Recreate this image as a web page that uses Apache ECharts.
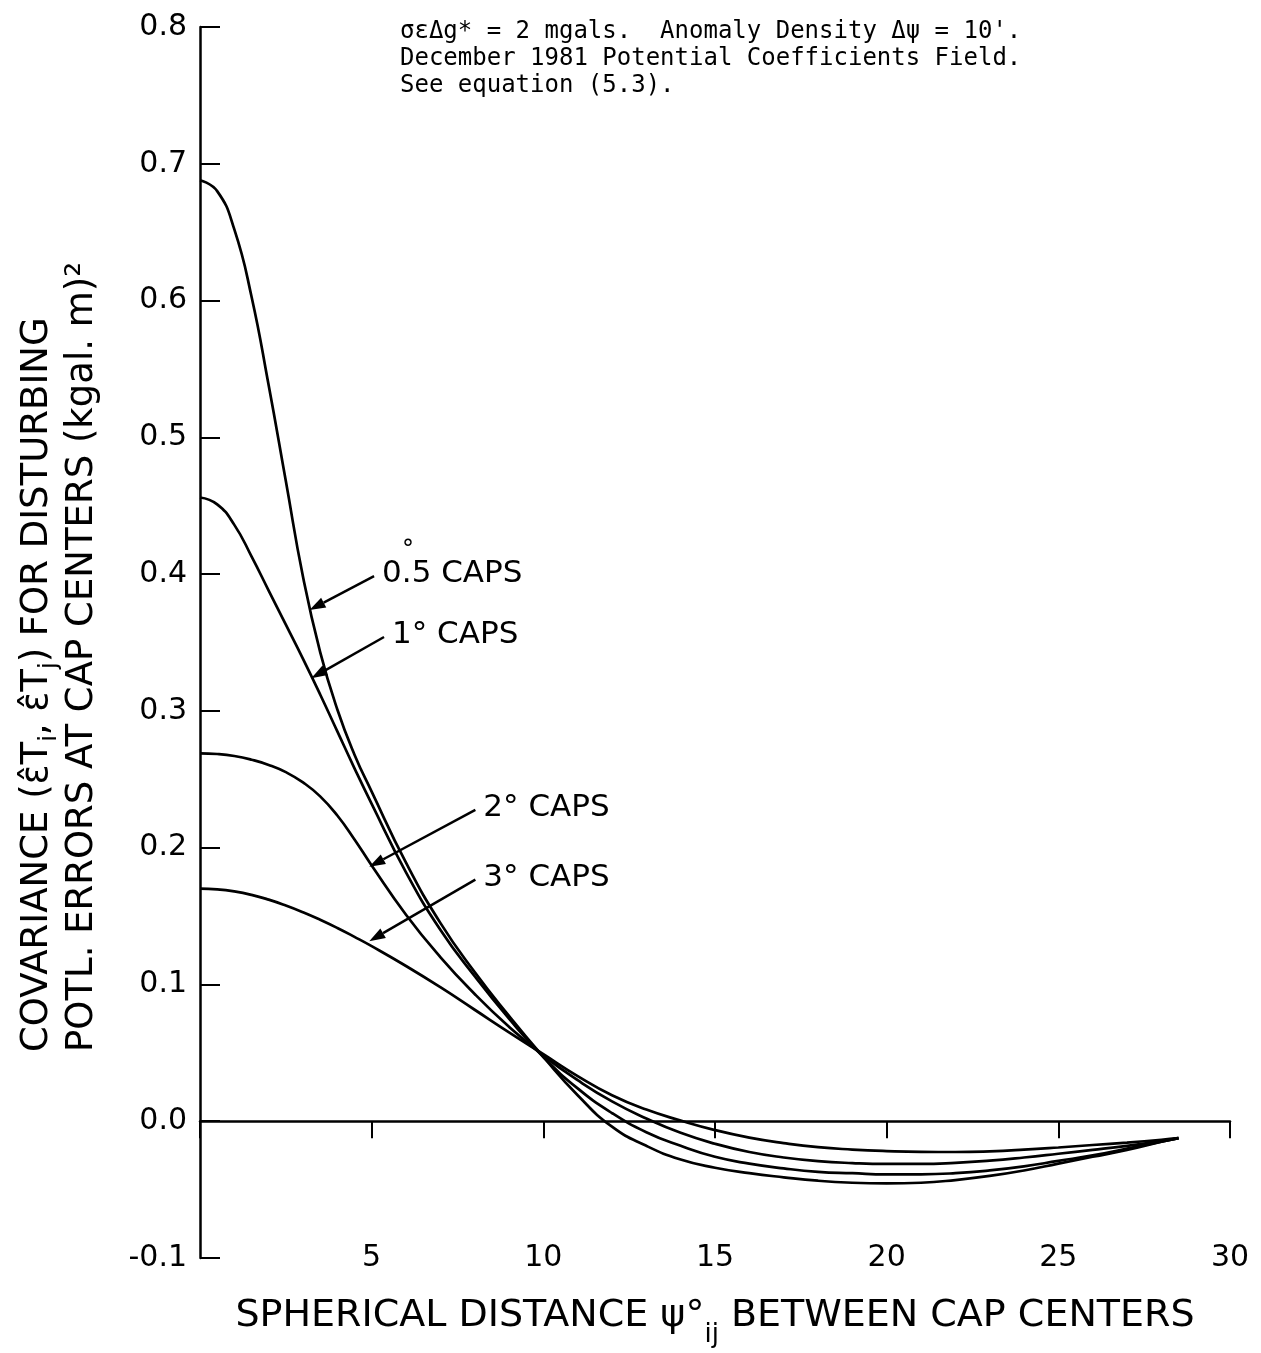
<!DOCTYPE html>
<html><head><meta charset="utf-8">
<script src="https://cdn.jsdelivr.net/npm/echarts@6/dist/echarts.min.js"></script>
<style>html,body{margin:0;padding:0;background:#fff}#c{width:1261px;height:1353px}</style>
</head><body><div id="c"></div>
<script>
// Spherical distance (degrees)
const xDeg = [0,0.5,1,1.5,2,2.5,3,3.5,4,4.5,5,6,7,8,9,10,11,12,13,14,15,16,17,18,19,20,21,22,23,24,25,26,27,28,28.5];
// Covariance values for each cap size
const cap05 = [0.688,0.680,0.652,0.603,0.538,0.468,0.398,0.343,0.301,0.268,0.241,0.189,0.145,0.109,0.077,0.047,0.019,-0.004,-0.018,-0.028,-0.034,-0.038,-0.041,-0.0435,-0.045,-0.0455,-0.045,-0.043,-0.040,-0.036,-0.031,-0.026,-0.021,-0.015,-0.0124];
const cap1  = [0.456,0.451,0.436,0.413,0.388,0.363,0.338,0.312,0.285,0.258,0.232,0.182,0.140,0.106,0.075,0.047,0.024,0.006,-0.008,-0.018,-0.026,-0.031,-0.0345,-0.037,-0.038,-0.0388,-0.0388,-0.038,-0.036,-0.033,-0.029,-0.025,-0.020,-0.015,-0.0124];
const cap2  = [0.269,0.2685,0.267,0.2643,0.2605,0.2552,0.2477,0.2375,0.2235,0.206,0.187,0.151,0.120,0.093,0.069,0.048,0.030,0.0145,0.002,-0.0085,-0.0165,-0.0225,-0.0265,-0.0292,-0.0306,-0.0312,-0.0312,-0.0304,-0.0288,-0.0265,-0.0238,-0.021,-0.018,-0.0145,-0.0124];
const cap3  = [0.170,0.1695,0.168,0.1655,0.162,0.1577,0.1528,0.1473,0.1413,0.1348,0.128,0.1135,0.098,0.0815,0.065,0.049,0.033,0.019,0.0085,0.0005,-0.0065,-0.012,-0.016,-0.019,-0.0207,-0.0218,-0.0224,-0.0225,-0.022,-0.0208,-0.0192,-0.0174,-0.0156,-0.0136,-0.0124];
const capNames = ['0.5° caps','1° caps','2° caps','3° caps'];
// Curve labels and arrow annotations (data coordinates)
const capLabels = ['0.5 CAPS','1° CAPS','2° CAPS','3° CAPS'];
const arrowStart = [[5.07,0.3985],[5.36,0.354],[8.02,0.2277],[8.02,0.1766]];
const arrowTip   = [[3.19,0.3737],[3.24,0.3239],[4.93,0.186],[4.93,0.1316]];
// Axis ticks
const xMin = 0, xMax = 30, xStep = 5;
const yMin = -0.1, yMax = 0.8, yStep = 0.1;
const noteLines = [
  "σεΔg* = 2 mgals.  Anomaly Density Δψ = 10'.",
  "December 1981 Potential Coefficients Field.",
  "See equation (5.3)."
];
const yTitle1 = 'COVARIANCE (\u03B5\u0302T{s|i}, \u03B5\u0302T{s|j}) FOR DISTURBING';
const yTitle2 = 'POTL. ERRORS AT CAP CENTERS (kgal. m)²';
const xTitle = 'SPHERICAL DISTANCE ψ°{s|ij} BETWEEN CAP CENTERS';

const FONT = 'DejaVu Sans';
const chart = echarts.init(document.getElementById('c'), null, {renderer:'canvas'});
const seriesData = [cap05, cap1, cap2, cap3];
function pairs(ys){ return xDeg.map((x,i)=>[x, ys[i]]); }
const xBase = {type:'value', min:xMin, max:xMax, interval:xStep, splitLine:{show:false}};
const option = {
  animation:false,
  backgroundColor:'#fff',
  grid:{left:200, right:31, top:27, bottom:94, containLabel:false},
  xAxis:[
    Object.assign({}, xBase, {
      axisLine:{show:true, onZero:true, onZeroAxisIndex:0, lineStyle:{color:'#000', width:2.5}},
      axisTick:{show:true, inside:false, length:17, lineStyle:{color:'#000', width:2}},
      axisLabel:{show:false}
    }),
    Object.assign({}, xBase, {
      axisLine:{show:false, onZero:true, onZeroAxisIndex:0},
      axisTick:{show:true, inside:true, length:17, lineStyle:{color:'#000', width:2}},
      axisLabel:{show:false}
    }),
    Object.assign({}, xBase, {
      position:'bottom',
      axisLine:{show:false, onZero:false},
      axisTick:{show:false},
      axisLabel:{show:true, margin:0, verticalAlign:'middle', color:'#000', fontSize:30, fontFamily:FONT,
        formatter:v=> v===0 ? '' : String(v)},
      name:xTitle, nameLocation:'middle', nameGap:26,
      nameTextStyle:{color:'#000', fontSize:38, fontFamily:FONT, lineHeight:64,
        rich:{s:{fontSize:26, fontFamily:FONT, color:'#000', lineHeight:64, verticalAlign:'bottom'}}}
    })
  ],
  yAxis:{type:'value', min:yMin, max:yMax, interval:yStep,
    axisLine:{show:true, onZero:false, lineStyle:{color:'#000', width:2.5}},
    axisTick:{show:true, inside:true, length:20, lineStyle:{color:'#000', width:2}},
    axisLabel:{margin:13, color:'#000', fontSize:30, fontFamily:FONT, formatter:v=>v.toFixed(1)},
    splitLine:{show:false}},
  series: seriesData.map((d,i)=>({type:'line', name:capNames[i], data:pairs(d), xAxisIndex:0, yAxisIndex:0,
    smooth:0.5, symbol:'none', silent:true, lineStyle:{color:'#000', width:2.7}}))
};
chart.setOption(option);

const els = [];
arrowStart.forEach((s,i)=>{
  const p0 = chart.convertToPixel({seriesIndex:0}, s);
  const p1 = chart.convertToPixel({seriesIndex:0}, arrowTip[i]);
  const dx = p1[0]-p0[0], dy = p1[1]-p0[1], L = Math.hypot(dx,dy);
  const ux = dx/L, uy = dy/L, hl = 16, hw = 5.5;
  const bx = p1[0]-ux*hl, by = p1[1]-uy*hl;
  els.push({type:'line', silent:true, shape:{x1:p0[0], y1:p0[1], x2:bx, y2:by}, style:{stroke:'#000', lineWidth:2.5}});
  els.push({type:'polygon', silent:true, shape:{points:[[p1[0],p1[1]],[bx-uy*hw, by+ux*hw],[bx+uy*hw, by-ux*hw]]}, style:{fill:'#000'}});
  const tx = p0[0]+8, ty = p0[1]-2;
  els.push({type:'text', silent:true, x:tx, y:ty, style:{text:capLabels[i], font:'31px '+FONT, fill:'#000',
    align:'left', verticalAlign:'middle', textAlign:'left', textVerticalAlign:'middle'}});
  if (i===0) {
    els.push({type:'text', silent:true, x:tx+26, y:ty-23, style:{text:'°', font:'24px '+FONT, fill:'#000',
      align:'center', verticalAlign:'middle', textAlign:'center', textVerticalAlign:'middle'}});
  }
});
// Note text (top)
els.push({type:'text', silent:true, x:400, y:18, style:{text:noteLines.join('\n'), font:'24px "DejaVu Sans Mono"', fill:'#000',
  lineHeight:27, align:'left', verticalAlign:'top', textAlign:'left', textVerticalAlign:'top'}});
// Y-axis title (two rotated lines)
const yRich = {s:{fontSize:24, fontFamily:FONT, fill:'#000', lineHeight:50, verticalAlign:'bottom'}};
els.push({type:'text', silent:true, x:37, y:1052, rotation:Math.PI/2, style:{text:yTitle1, fontSize:37, fontFamily:FONT, fill:'#000',
  lineHeight:50, rich:yRich, align:'left', verticalAlign:'middle', textAlign:'left', textVerticalAlign:'middle'}});
els.push({type:'text', silent:true, x:82, y:1052, rotation:Math.PI/2, style:{text:yTitle2, fontSize:37, fontFamily:FONT, fill:'#000',
  align:'left', verticalAlign:'middle', textAlign:'left', textVerticalAlign:'middle'}});
chart.setOption({graphic:{elements:els}});
</script></body></html>
